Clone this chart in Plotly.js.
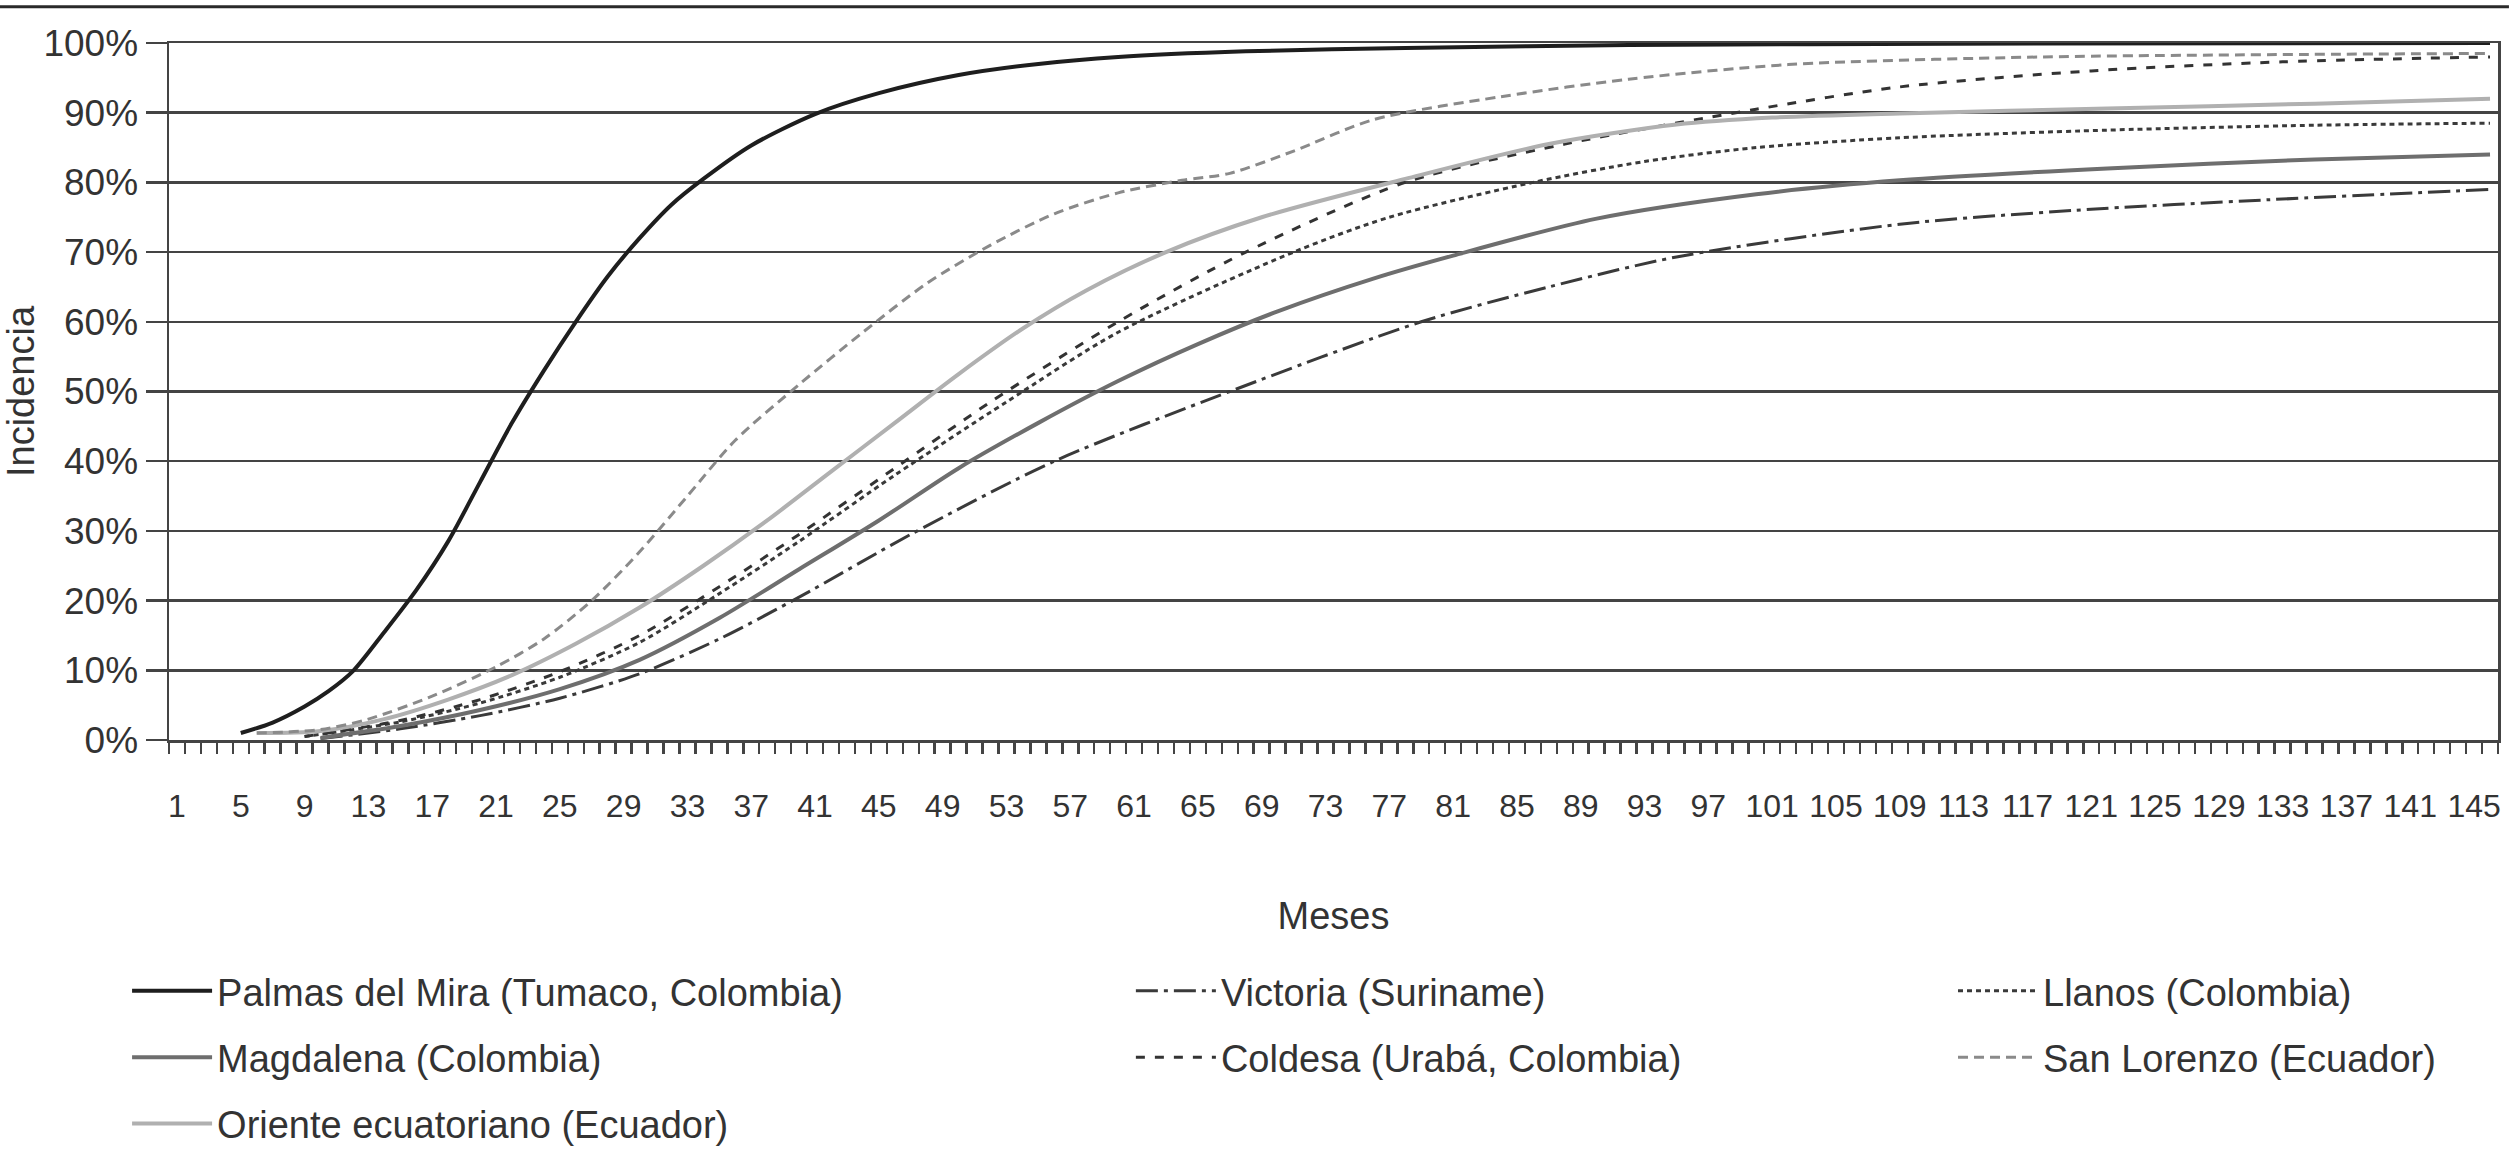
<!DOCTYPE html>
<html>
<head>
<meta charset="utf-8">
<script src="https://cdn.plot.ly/plotly-3.0.1.min.js"></script>
<style>html,body{margin:0;padding:0;background:#fff}#chart{width:2509px;height:1167px}</style>
</head>
<body>
<div id="chart"></div>
<script>
// ---- Data (months, incidence %) ----
var xTickLabels = [1,5,9,13,17,21,25,29,33,37,41,45,49,53,57,61,65,69,73,77,81,85,89,93,97,101,105,109,113,117,121,125,129,133,137,141,145];

var palmasMonths = [5,7,9,10.5,12,14,16,18,20,22,24,26,28,30,32,34,37,41,45,50,55,60,68,78,92,112,146];
var palmasValues = [1,2.5,4.8,7,9.8,15.5,21.5,28.5,37,45.5,53,60,66.5,72,76.8,80.5,85.3,89.8,92.8,95.4,97,98,98.8,99.3,99.7,99.9,100];

var victoriaMonths = [10,15,20,25,30,35,40,47,56,67,79,87,95,109,120,132,146];
var victoriaValues = [0.2,1.6,3.5,6,9.5,14.5,20.5,29.5,40,50,60,65,69.3,74,76,77.5,79];

var llanosMonths = [9,15,20,25,30,35,40,46,53,60,71,77,86,93,100,109,122,135,146];
var llanosValues = [0.5,2.6,5.3,9,14,21,28.5,38,48.5,58.5,70,75,80,83,85,86.4,87.5,88.2,88.5];

var magdalenaMonths = [10,15,20,25,30,35,40,45,50,55,60,65,70,76,81,90,100,109,122,135,146];
var magdalenaValues = [0.3,2,4.3,7.3,11.5,17.5,24.5,31.5,39,45.5,51.5,56.8,61.5,66.2,69.5,74.8,78.3,80.3,82,83.3,84];

var coldesaMonths = [9,15,20,25,30,35,40,46,52,60,68,78,88,100,109,121,133,146];
var coldesaValues = [0.5,2.8,5.8,9.8,15,22,29.5,39,48.5,60,70,80,85.5,90.5,93.7,96,97.3,98];

var sanLorenzoMonths = [6,10,13,17,21,24,27,30,33,36,40,44,48,52,56,60,64,67,71,76,84,92,102,118,146];
var sanLorenzoValues = [1,1.5,3,6.3,10.5,14.5,20,27,35,43,51,58.5,65.5,71,75.5,78.5,80.3,81.3,84.5,89,92.3,94.8,96.9,98,98.5];

var orienteMonths = [6,10,14,18,22,26,30,34,38,42,46,50,54,58,63,69,78,87,95,101,109,122,135,146];
var orienteValues = [1,1.3,3,5.8,9.3,13.8,19,25,31.5,38.5,45.5,52.5,59,64.5,70,75,80.5,85.5,88.3,89.3,89.9,90.6,91.3,92];

// ---- Traces ----
var FONT = 'Liberation Sans, Arial, Helvetica, sans-serif';
function tr(name, xs, ys, color, width, dash, legend, grp, rank) {
  return {
    type: 'scatter', mode: 'lines', name: name, x: xs, y: ys,
    line: {color: color, width: width, dash: dash, shape: 'spline', smoothing: 0.8},
    legend: legend, legendgroup: grp, legendrank: rank, hoverinfo: 'skip'
  };
}
var traces = [
  tr('Victoria (Suriname)', victoriaMonths, victoriaValues, '#3a3a3a', 3, '22px,6px,4px,6px', 'legend2', 'g2', 1),
  tr('Magdalena (Colombia)', magdalenaMonths, magdalenaValues, '#6e6e6e', 4, 'solid', 'legend', 'g4', 2),
  tr('Llanos (Colombia)', llanosMonths, llanosValues, '#3a3a3a', 3, '5px,4px', 'legend3', 'g3', 1),
  tr('Coldesa (Urabá, Colombia)', coldesaMonths, coldesaValues, '#333333', 3, '9px,10px', 'legend2', 'g5', 2),
  tr('Oriente ecuatoriano (Ecuador)', orienteMonths, orienteValues, '#b0b0b0', 4, 'solid', 'legend', 'g7', 3),
  tr('San Lorenzo (Ecuador)', sanLorenzoMonths, sanLorenzoValues, '#8a8a8a', 3, '10px,6px', 'legend3', 'g6', 2),
  tr('Palmas del Mira (Tumaco, Colombia)', palmasMonths, palmasValues, '#1e1e1e', 4, 'solid', 'legend', 'g1', 1)
];

var legendBase = {
  orientation: 'v', yanchor: 'top', xanchor: 'left', y: -0.315,
  font: {family: FONT, size: 38, color: '#333'},
  bgcolor: 'rgba(0,0,0,0)', tracegroupgap: 14, itemwidth: 80,
  traceorder: 'grouped', itemclick: false, itemdoubleclick: false
};
function lg(x) { var o = JSON.parse(JSON.stringify(legendBase)); o.x = x; return o; }

var layout = {
  width: 2509, height: 1167,
  margin: {l: 169, r: 11, t: 43, b: 412, pad: 0},
  paper_bgcolor: '#fff', plot_bgcolor: '#fff',
  font: {family: FONT, size: 38, color: '#333'},
  showlegend: true,
  legend: lg(-0.018),
  legend2: lg(0.413),
  legend3: lg(0.766),
  xaxis: {
    type: 'linear', range: [0.5, 146.5], autorange: false,
    tickmode: 'array', tickvals: xTickLabels, ticktext: xTickLabels.map(String),
    tickangle: 0,
    ticks: '', showgrid: false, zeroline: false,
    showline: true, linecolor: '#444', linewidth: 2.5, mirror: true,
    ticklabelstandoff: 36,
    tickfont: {family: FONT, size: 32, color: '#333'},
    minor: {tick0: 0.5, dtick: 1, ticks: 'outside', ticklen: 11, tickcolor: '#444', tickwidth: 2.5, showgrid: false},
    title: {text: 'Meses', font: {family: FONT, size: 38, color: '#333'}, standoff: 80}
  },
  yaxis: {
    range: [0, 100], autorange: false, dtick: 10, tick0: 0,
    ticksuffix: '%', ticks: 'outside', ticklen: 21, tickcolor: '#444', tickwidth: 2.5,
    showgrid: true, gridcolor: '#444', gridwidth: 2.5, zeroline: false,
    showline: true, linecolor: '#444', linewidth: 2.5, mirror: true,
    tickfont: {family: FONT, size: 37, color: '#333'},
    title: {text: 'Incidencia', font: {family: FONT, size: 38, color: '#333'}, standoff: 10}
  },
  shapes: [{
    type: 'line', xref: 'paper', yref: 'paper',
    x0: -0.0726, x1: 1.0047, y0: 1.052, y1: 1.052,
    line: {color: '#2a2a2a', width: 3}
  }]
};

Plotly.newPlot('chart', traces, layout, {displayModeBar: false, staticPlot: true});
</script>
</body>
</html>
